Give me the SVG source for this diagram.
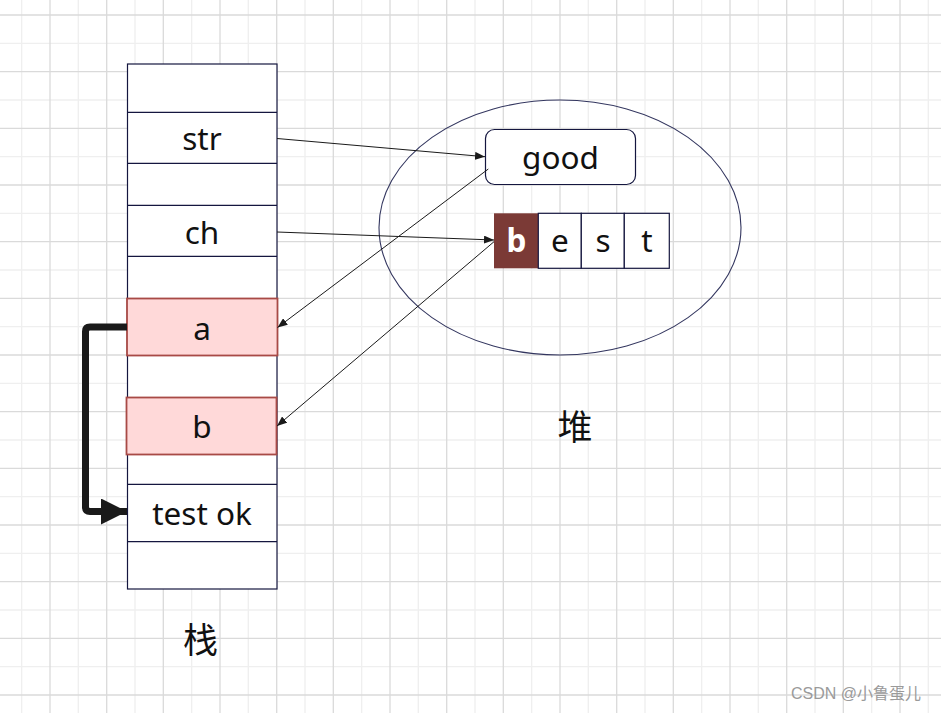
<svg xmlns="http://www.w3.org/2000/svg" width="941" height="713" viewBox="0 0 941 713">
<defs>
<style>
.gl{stroke:#efefef;stroke-width:1.3}
.gd{stroke:#dadada;stroke-width:1.3}
.cell{fill:#ffffff;stroke:#14163f;stroke-width:1.2}
.hl{fill:#ffd9d9;stroke:#a84a46;stroke-width:1.8}
.t{font-family:"Noto Sans","Open Sans",sans-serif;font-size:31.5px;fill:#111111;text-anchor:middle}
.cjk{font-family:"Noto Sans CJK SC",sans-serif;font-size:35px;fill:#111111;text-anchor:middle}
.thin{fill:none;stroke:#1a1a1a;stroke-width:1}
</style>
<marker id="ah" viewBox="0 0 10 8" refX="10" refY="4" markerWidth="10" markerHeight="8" markerUnits="userSpaceOnUse" orient="auto">
<path d="M0,0 L10,4 L0,8 z" fill="#1a1a1a"/>
</marker>
<marker id="bah" viewBox="0 0 26 26" refX="26" refY="13" markerWidth="26" markerHeight="26" markerUnits="userSpaceOnUse" orient="auto">
<path d="M0,0 L26,13 L0,26 z" fill="#1a1a1a"/>
</marker>
</defs>
<rect width="941" height="713" fill="#ffffff"/>
<g id="grid">
<g class="gl">
<line x1="21.7" y1="0" x2="21.7" y2="713"/><line x1="78.3" y1="0" x2="78.3" y2="713"/><line x1="135" y1="0" x2="135" y2="713"/><line x1="191.7" y1="0" x2="191.7" y2="713"/><line x1="248.3" y1="0" x2="248.3" y2="713"/><line x1="305" y1="0" x2="305" y2="713"/><line x1="361.7" y1="0" x2="361.7" y2="713"/><line x1="418.3" y1="0" x2="418.3" y2="713"/><line x1="475" y1="0" x2="475" y2="713"/><line x1="531.7" y1="0" x2="531.7" y2="713"/><line x1="588.3" y1="0" x2="588.3" y2="713"/><line x1="645" y1="0" x2="645" y2="713"/><line x1="701.7" y1="0" x2="701.7" y2="713"/><line x1="758.3" y1="0" x2="758.3" y2="713"/><line x1="815" y1="0" x2="815" y2="713"/><line x1="871.7" y1="0" x2="871.7" y2="713"/><line x1="928.3" y1="0" x2="928.3" y2="713"/>
<line x1="0" y1="43.3" x2="941" y2="43.3"/><line x1="0" y1="100" x2="941" y2="100"/><line x1="0" y1="156.7" x2="941" y2="156.7"/><line x1="0" y1="213.3" x2="941" y2="213.3"/><line x1="0" y1="270" x2="941" y2="270"/><line x1="0" y1="326.7" x2="941" y2="326.7"/><line x1="0" y1="383.3" x2="941" y2="383.3"/><line x1="0" y1="440" x2="941" y2="440"/><line x1="0" y1="496.7" x2="941" y2="496.7"/><line x1="0" y1="553.3" x2="941" y2="553.3"/><line x1="0" y1="610" x2="941" y2="610"/><line x1="0" y1="666.7" x2="941" y2="666.7"/>
</g>
<g class="gd">
<line x1="50" y1="0" x2="50" y2="713"/><line x1="106.7" y1="0" x2="106.7" y2="713"/><line x1="163.3" y1="0" x2="163.3" y2="713"/><line x1="220" y1="0" x2="220" y2="713"/><line x1="276.7" y1="0" x2="276.7" y2="713"/><line x1="333.3" y1="0" x2="333.3" y2="713"/><line x1="390" y1="0" x2="390" y2="713"/><line x1="446.7" y1="0" x2="446.7" y2="713"/><line x1="503.3" y1="0" x2="503.3" y2="713"/><line x1="560" y1="0" x2="560" y2="713"/><line x1="616.7" y1="0" x2="616.7" y2="713"/><line x1="673.3" y1="0" x2="673.3" y2="713"/><line x1="730" y1="0" x2="730" y2="713"/><line x1="786.7" y1="0" x2="786.7" y2="713"/><line x1="843.3" y1="0" x2="843.3" y2="713"/><line x1="900" y1="0" x2="900" y2="713"/>
<line x1="0" y1="15" x2="941" y2="15"/><line x1="0" y1="71.7" x2="941" y2="71.7"/><line x1="0" y1="128.3" x2="941" y2="128.3"/><line x1="0" y1="185" x2="941" y2="185"/><line x1="0" y1="241.7" x2="941" y2="241.7"/><line x1="0" y1="298.3" x2="941" y2="298.3"/><line x1="0" y1="355" x2="941" y2="355"/><line x1="0" y1="411.7" x2="941" y2="411.7"/><line x1="0" y1="468.3" x2="941" y2="468.3"/><line x1="0" y1="525" x2="941" y2="525"/><line x1="0" y1="581.7" x2="941" y2="581.7"/><line x1="0" y1="638.3" x2="941" y2="638.3"/><line x1="0" y1="695" x2="941" y2="695"/>
</g>
</g>
<g id="stack">
<rect class="cell" x="127.5" y="64" width="149.5" height="525"/>
<line class="cell" x1="127.5" y1="112.3" x2="277" y2="112.3"/>
<line class="cell" x1="127.5" y1="163.3" x2="277" y2="163.3"/>
<line class="cell" x1="127.5" y1="205.3" x2="277" y2="205.3"/>
<line class="cell" x1="127.5" y1="256.3" x2="277" y2="256.3"/>
<line class="cell" x1="127.5" y1="484.3" x2="277" y2="484.3"/>
<line class="cell" x1="127.5" y1="541.7" x2="277" y2="541.7"/>
</g>
<g id="str"><text class="t" x="202" y="150">str</text></g>
<g id="ch"><text class="t" x="202" y="244">ch</text></g>
<g id="a"><rect class="hl" x="127" y="298.5" width="150.5" height="57"/><text class="t" x="202" y="340">a</text></g>
<g id="b"><rect class="hl" x="126.5" y="397.5" width="150" height="57"/><text class="t" x="202" y="438">b</text></g>
<g id="testok"><text class="t" x="202" y="525">test ok</text></g>
<g id="stack-label"><text class="cjk" x="200.5" y="653">栈</text></g>
<g id="heap"><ellipse cx="560" cy="227.5" rx="181" ry="127.5" fill="none" stroke="#33365f" stroke-width="1.1"/></g>
<g id="heap-label"><text class="cjk" x="575" y="440">堆</text></g>
<g id="good"><rect class="cell" x="485.5" y="129.5" width="150" height="55" rx="9"/><text class="t" x="560.5" y="169">good</text></g>
<g id="best">
<rect x="494" y="213.3" width="44.3" height="55" fill="#7b3a36"/>
<rect class="cell" x="538.3" y="213.3" width="43" height="55"/>
<rect class="cell" x="581.3" y="213.3" width="43" height="55"/>
<rect class="cell" x="624.3" y="213.3" width="45" height="55"/>
<text class="t" x="516.5" y="252" style="fill:#ffffff;font-weight:bold">b</text>
<text class="t" x="560" y="252">e</text>
<text class="t" x="603" y="252">s</text>
<text class="t" x="647" y="252">t</text>
</g>
<g id="connectors">
<line class="thin" x1="277" y1="138.5" x2="485" y2="156.7" marker-end="url(#ah)"/>
<line class="thin" x1="277" y1="232" x2="494" y2="240" marker-end="url(#ah)"/>
<line class="thin" x1="488.3" y1="169" x2="277.5" y2="327.5" marker-end="url(#ah)"/>
<line class="thin" x1="494" y1="241.7" x2="277" y2="426" marker-end="url(#ah)"/>
<path d="M127,327 L90,327 Q85.5,327 85.5,331.5 L85.5,507 Q85.5,511.5 90,511.5 L127,511.5" fill="none" stroke="#1a1a1a" stroke-width="7" stroke-linejoin="round" marker-end="url(#bah)"/>
</g>
<g id="watermark"><text x="856" y="699" font-family="'Liberation Sans','Noto Sans CJK SC',sans-serif" font-size="16" fill="#9a9a9a" text-anchor="middle">CSDN @小鲁蛋儿</text></g>
</svg>
